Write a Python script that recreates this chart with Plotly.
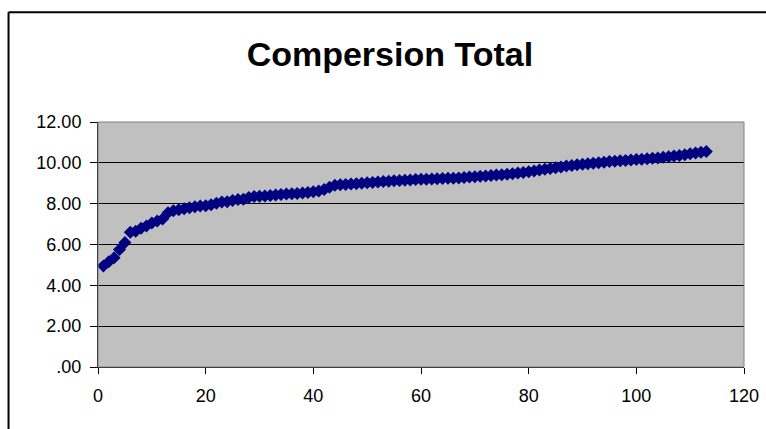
import plotly.graph_objects as go

# Data
x_values = list(range(1, 114))
compersion_total = [
    4.95, 5.15, 5.35, 5.75, 6.10, 6.60, 6.65, 6.80, 6.90, 7.05,
    7.15, 7.25, 7.55, 7.65, 7.70, 7.75, 7.80, 7.85, 7.88, 7.90,
    7.95, 8.02, 8.08, 8.10, 8.15, 8.20, 8.22, 8.30, 8.35, 8.36,
    8.38, 8.40, 8.42, 8.45, 8.47, 8.48, 8.50, 8.52, 8.55, 8.58,
    8.62, 8.70, 8.80, 8.90, 8.93, 8.94, 8.96, 8.98, 9.00, 9.02,
    9.04, 9.06, 9.08, 9.10, 9.12, 9.14, 9.15, 9.16, 9.18, 9.19,
    9.20, 9.21, 9.22, 9.23, 9.24, 9.25, 9.26, 9.28, 9.30, 9.32,
    9.34, 9.36, 9.38, 9.40, 9.42, 9.44, 9.47, 9.50, 9.53, 9.56,
    9.60, 9.65, 9.68, 9.72, 9.76, 9.80, 9.84, 9.87, 9.90, 9.93,
    9.96, 9.98, 10.00, 10.03, 10.06, 10.08, 10.10, 10.12, 10.14, 10.16,
    10.18, 10.20, 10.22, 10.24, 10.27, 10.30, 10.33, 10.36, 10.40, 10.44,
    10.48, 10.52, 10.55,
]
y_tick_values = [0, 2, 4, 6, 8, 10, 12]
y_tick_labels = [".00", "2.00", "4.00", "6.00", "8.00", "10.00", "12.00"]
x_tick_values = [0, 20, 40, 60, 80, 100, 120]
title_text = "Compersion Total"

W, H = 766, 429
L, R, T, B = 97.5, 22.3, 122, 61.5
pw, ph = W - L - R, H - T - B

def px_to_paper_x(px):
    return (px - L) / pw

def px_to_paper_y(py):
    return (H - B - py) / ph

fig = go.Figure()
fig.add_trace(go.Scatter(
    x=x_values, y=compersion_total, mode="markers",
    marker=dict(symbol="diamond", size=10, color="#000080",
                line=dict(width=0)),
    showlegend=False,
))

font = "Liberation Sans, Arial, sans-serif"
fig.update_layout(
    width=W, height=H,
    margin=dict(l=L, r=R, t=T, b=B, autoexpand=False),
    paper_bgcolor="white",
    plot_bgcolor="#C0C0C0",
    font=dict(family=font, size=18, color="black"),
    title=dict(text="<b>" + title_text + "</b>", x=0.509, xanchor="center",
               y=1 - 54 / H, yanchor="middle", yref="container",
               font=dict(family=font, size=34, color="black")),
    xaxis=dict(range=[0, 120], tickvals=x_tick_values, ticks="outside",
               ticklen=6, tickcolor="black", showline=True, linecolor="black",
               linewidth=1, showgrid=False, zeroline=False,
               tickfont=dict(size=18), ticklabelstandoff=6),
    yaxis=dict(range=[0, 12], tickvals=y_tick_values, ticktext=y_tick_labels,
               ticks="outside", ticklen=7, tickcolor="black", showline=True,
               linecolor="black", linewidth=1, showgrid=True,
               gridcolor="black", gridwidth=1, zeroline=False,
               tickfont=dict(size=18), ticklabelstandoff=5),
    shapes=[
        dict(type="rect", xref="paper", yref="paper", x0=0, x1=1, y0=0, y1=1,
             line=dict(color="#808080", width=1), layer="above"),
        dict(type="line", xref="paper", yref="paper",
             x0=px_to_paper_x(8), x1=px_to_paper_x(8),
             y0=px_to_paper_y(12), y1=px_to_paper_y(440),
             line=dict(color="black", width=2)),
        dict(type="line", xref="paper", yref="paper",
             x0=px_to_paper_x(8), x1=px_to_paper_x(780),
             y0=px_to_paper_y(12), y1=px_to_paper_y(12),
             line=dict(color="black", width=2)),
    ],
)

fig.write_html("out.html",
               config={"displayModeBar": False},
               post_script="document.body.style.margin='0';document.body.style.overflow='hidden';")
